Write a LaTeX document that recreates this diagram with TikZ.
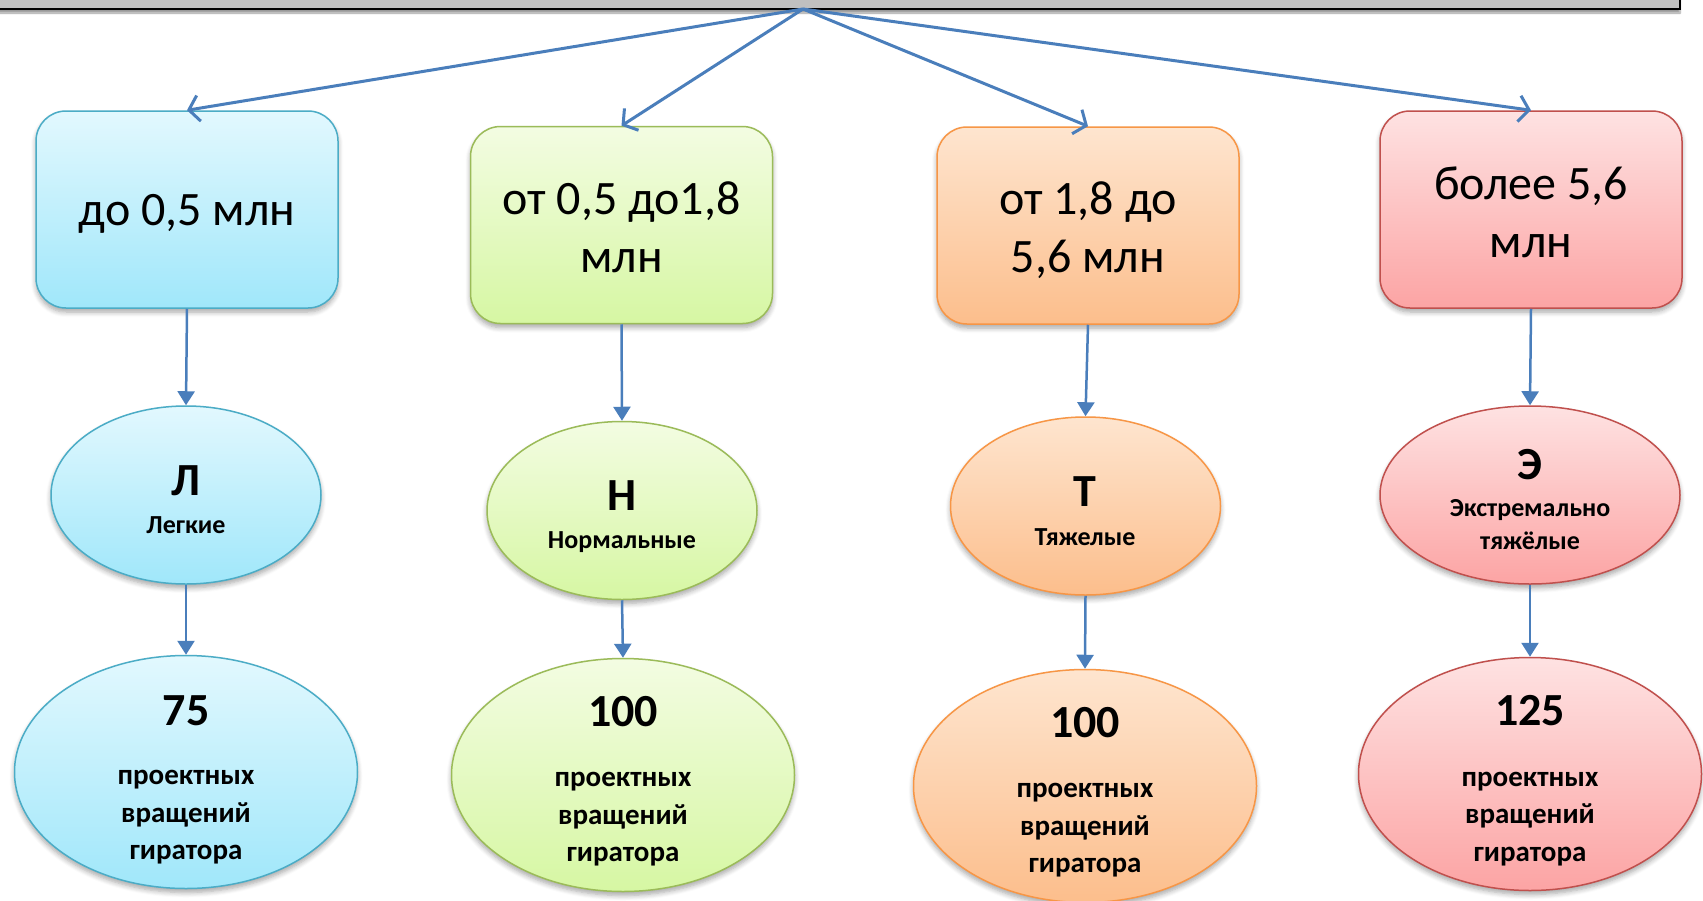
\documentclass[tikz,border=0pt]{standalone}
\usepackage{fontspec}
\setmainfont{Carlito}
\usetikzlibrary{arrows.meta,shapes.geometric,shadows.blur}
\definecolor{arrowc}{RGB}{74,126,187}
\definecolor{bluetop}{RGB}{226,248,254}
\definecolor{bluebot}{RGB}{160,231,250}
\definecolor{blueline}{RGB}{75,172,198}
\definecolor{greentop}{RGB}{243,252,226}
\definecolor{greenbot}{RGB}{214,247,163}
\definecolor{greenline}{RGB}{155,187,89}
\definecolor{orangetop}{RGB}{254,229,207}
\definecolor{orangebot}{RGB}{252,190,140}
\definecolor{orangeline}{RGB}{247,150,70}
\definecolor{redtop}{RGB}{254,226,226}
\definecolor{redbot}{RGB}{252,164,164}
\definecolor{redline}{RGB}{192,80,77}
\definecolor{bargray}{RGB}{192,192,192}
\begin{document}
\begin{tikzpicture}[x=1pt,y=-1pt,
  softshadow/.style={blur shadow={shadow xshift=0pt,shadow yshift=-4pt,shadow blur steps=6,shadow blur radius=5pt,shadow opacity=35}},
  boxsty/.style={rectangle,rounded corners=30pt,minimum width=302pt,minimum height=197pt,
    line width=1.5pt,inner sep=0pt,softshadow},
  boxtxt/.style={inner sep=0pt,align=center,font=\fontsize{48}{58}\selectfont},
  ellsty/.style={ellipse,line width=1.5pt,inner sep=0pt,softshadow},
  blue/.style={draw=blueline,top color=bluetop,bottom color=bluebot},
  green/.style={draw=greenline,top color=greentop,bottom color=greenbot},
  orange/.style={draw=orangeline,top color=orangetop,bottom color=orangebot},
  red/.style={draw=redline,top color=redtop,bottom color=redbot},
  small/.style={minimum width=270pt,minimum height=178pt},
  big/.style={minimum width=343pt,minimum height=233pt},
  lettertxt/.style={inner sep=0pt,font=\bfseries\fontsize{46}{50}\selectfont},
  desctxt/.style={inner sep=0pt,align=center,font=\bfseries\fontsize{26}{33}\selectfont},
  numtxt/.style={inner sep=0pt,font=\bfseries\fontsize{46}{50}\selectfont},
  linestxt/.style={inner sep=0pt,align=center,font=\bfseries\fontsize{29}{37.5}\selectfont},
  fanarrow/.style={draw=arrowc,line width=3pt,-{Straight Barb[length=10pt,width=26pt,line width=3pt]}},
  downarrow/.style={draw=arrowc,line width=2.5pt,-{Triangle[length=14pt,width=17pt]}}
  ]
\useasboundingbox (0,0) rectangle (1703,900);
% top bar
\node[draw=black,line width=2.5pt,fill=bargray,minimum width=1700pt,minimum height=60pt,inner sep=0pt,
  blur shadow={shadow xshift=0pt,shadow yshift=-4pt,shadow blur steps=6,shadow opacity=40}] (bar) at (830,-21) {};
\coordinate (hub) at (803,9);
% boxes
\node[boxsty,blue]   (b1) at (187,209.5)  {};
\node[boxsty,green]  (b2) at (621.5,225)  {};
\node[boxsty,orange] (b3) at (1088,225.5) {};
\node[boxsty,red]    (b4) at (1531,209.5) {};
\node[boxtxt] (bt1) at (187,214)    {до 0,5 млн};
\node[boxtxt] (bt2) at (621.5,227)  {от 0,5 до1,8\\млн};
\node[boxtxt] (bt3) at (1088,230.5) {от 1,8 до\\5,6 млн};
\node[boxtxt] (bt4) at (1531,212)   {более 5,6\\млн};
% middle ellipses
\node[ellsty,small,blue]   (e1) at (186,495) {};
\node[ellsty,small,green]  (e2) at (622,510.5) {};
\node[ellsty,small,orange] (e3) at (1085.5,506) {};
\node[ellsty,small,red,minimum width=300pt] (e4) at (1530,495) {};
% bottom ellipses
\node[ellsty,big,blue]   (f1) at (186,772) {};
\node[ellsty,big,green]  (f2) at (623,775) {};
\node[ellsty,big,orange] (f3) at (1085,786) {};
\node[ellsty,big,red]    (f4) at (1530,774) {};
% texts in middle ellipses
\node[lettertxt] (l1) at (186,481) {Л};
\node[desctxt]   (d1) at (186,525) {Легкие};
\node[lettertxt] (l2) at (622,496) {Н};
\node[desctxt]   (d2) at (622,542.5) {Нормальные};
\node[lettertxt] (l3) at (1085,492) {Т};
\node[desctxt]   (d3) at (1085,537) {Тяжелые};
\node[lettertxt] (l4) at (1530,465) {Э};
\node[desctxt]   (d4) at (1530,525) {Экстремально\\тяжёлые};
% texts in bottom ellipses
\node[numtxt]   (n1) at (186,711) {75};
\node[linestxt] (p1) at (186,817.5) {проектных\\вращений\\гиратора};
\node[numtxt]   (n2) at (623,712) {100};
\node[linestxt] (p2) at (623,819.5) {проектных\\вращений\\гиратора};
\node[numtxt]   (n3) at (1085,723) {100};
\node[linestxt] (p3) at (1085,830.5) {проектных\\вращений\\гиратора};
\node[numtxt]   (n4) at (1530,711) {125};
\node[linestxt] (p4) at (1530,819) {проектных\\вращений\\гиратора};
% fan arrows
\draw[fanarrow] (hub) -- (b1.north);
\draw[fanarrow] (hub) -- (b2.north);
\draw[fanarrow] (hub) -- (b3.north);
\draw[fanarrow] (hub) -- (b4.north);
% vertical arrows
\draw[downarrow] (b1.south) -- (e1.north);
\draw[downarrow] (b2.south) -- (e2.north);
\draw[downarrow] (b3.south) -- (e3.north);
\draw[downarrow] (b4.south) -- (e4.north);
\draw[downarrow] (e1.south) -- (f1.north);
\draw[downarrow] (e2.south) -- (f2.north);
\draw[downarrow] (e3.south) -- (f3.north);
\draw[downarrow] (e4.south) -- (f4.north);
\end{tikzpicture}
\end{document}
